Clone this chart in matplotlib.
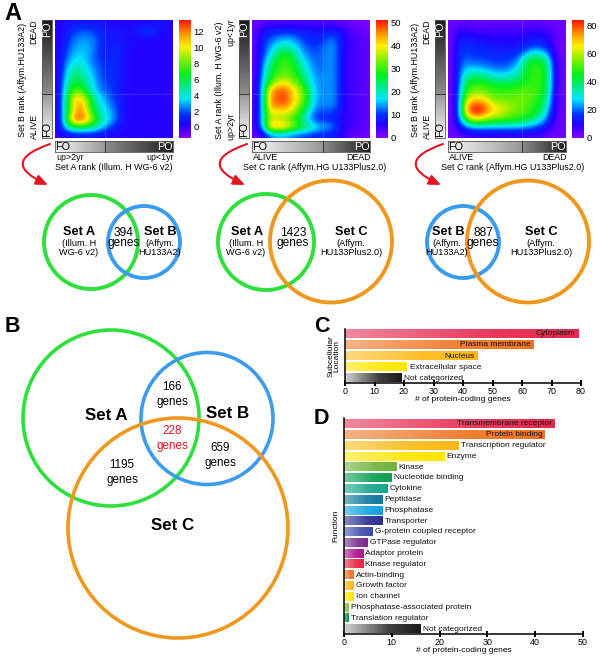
import matplotlib

matplotlib.use("Agg")
import matplotlib.pyplot as plt
import numpy as np
from matplotlib.colors import LinearSegmentedColormap, Normalize, to_rgb
from matplotlib.patches import Circle, FancyArrowPatch

plt.rcParams["font.family"] = ["Liberation Sans", "DejaVu Sans"]

W, H = 600, 656

heat_a_b = [
    [0.2, 0.8, 0.8, 0.8, 0.8, 0.8, 0.6, 0.4, 0.4, 0.4, 0.4, 0.4, 0.4, 0.4, 0.8, 0.4],
    [0.2, 0.8, 1.6, 2, 2, 1.6, 1.2, 0.8, 0.8, 0.6, 0.6, 1.3, 1.7, 1.7, 0.4, 0.3],
    [0.2, 1, 2.2, 2.6, 2.6, 2.2, 1.2, 0.8, 0.8, 0.6, 0.4, 0.4, 0.4, 0.3, 0.3, 0.3],
    [0.2, 1.4, 2.6, 3, 3, 2.2, 1.2, 1, 1.3, 0.8, 0.4, 0.4, 0.4, 0.3, 0.3, 0.3],
    [0.2, 1.8, 3, 3.4, 3, 2, 1.2, 1, 1.3, 0.6, 0.3, 0.3, 0.3, 0.3, 0.3, 0.3],
    [0.2, 2.2, 3.6, 3.8, 2.8, 2, 1.5, 1.2, 1.3, 0.5, 0.3, 0.3, 0.3, 0.3, 0.3, 0.3],
    [0.2, 2.8, 4.5, 4.5, 3.4, 2.4, 1.6, 1.5, 1.3, 0.5, 0.3, 0.3, 0.3, 0.3, 0.3, 0.3],
    [0.2, 3.4, 5.5, 5.2, 4, 2.6, 1.7, 1.5, 1.3, 0.5, 0.3, 0.3, 0.3, 0.3, 0.3, 0.3],
    [0.2, 4, 6.2, 6, 4.6, 3, 1.8, 1.7, 1.3, 0.5, 0.3, 0.3, 0.3, 0.3, 0.3, 0.3],
    [0.2, 4.6, 7.5, 7.5, 5.2, 3.2, 2.2, 1.8, 1, 0.4, 0.3, 0.3, 0.3, 0.3, 0.3, 0],
    [0.2, 5, 10, 10.5, 7.5, 4.4, 3, 2, 1.3, 0.5, 0.3, 0.3, 0.3, 0.3, 0.3, 0],
    [0.2, 5.2, 10, 12, 8.5, 5, 3.5, 2.6, 1.4, 0.5, 0.3, 0.3, 0.3, 0.3, 0.3, 0.3],
    [0.2, 5.4, 10, 12.5, 9, 6, 4, 3, 1.8, 0.5, 0.3, 0.3, 0.3, 0.3, 0.3, 0.3],
    [0.2, 5.4, 12.5, 13, 11, 7, 4.5, 3.4, 1.8, 0.4, 0.3, 0.3, 0.3, 0.3, 0.3, 0.3],
    [0.2, 3.8, 6, 6.5, 6, 5, 3.4, 1.8, 0.9, 0.4, 0.3, 0.3, 0.3, 0.3, 0, 0.3],
    [0, 0.4, 0.8, 0.8, 0.8, 0.7, 0.5, 0.4, 0.3, 0.3, 0.3, 0.3, 0.3, 0.3, 0.3, 0.2],
]
heat_c_a = [
    [1, 2, 3, 3, 3, 3, 3, 3, 3, 3, 3, 2, 2, 1, 1, 1],
    [2, 7, 8, 9, 9, 9, 8, 8, 7, 7, 8, 8, 5, 3, 2, 1],
    [2, 8, 11, 13, 14, 14, 11, 9, 8, 9, 12, 11, 6, 4, 3, 2],
    [2, 9, 14, 18, 20, 18, 14, 11, 10, 11, 14, 12, 5, 4, 3, 2],
    [2, 10, 16, 24, 27, 24, 16, 13, 11, 12, 14, 12, 5, 4, 3, 2],
    [2, 12, 21, 28, 30, 28, 20, 15, 12, 12, 14, 12, 5, 4, 3, 2],
    [2, 14, 24, 29, 31, 29, 23, 17, 13, 12, 14, 12, 5, 4, 3, 2],
    [2, 15, 26, 31, 33, 31, 26, 19, 14, 13, 14, 12, 5, 4, 3, 2],
    [3, 17, 30, 38, 40, 35, 30, 21, 15, 13, 14, 12, 5, 4, 3, 2],
    [3, 18, 44, 48, 48, 42, 36, 26, 16, 13, 14, 12, 5, 4, 3, 2],
    [3, 18, 46, 48, 50, 43, 37, 27, 16, 13, 14, 12, 5, 4, 3, 2],
    [3, 18, 46, 47, 48, 41, 35, 25, 15, 13, 14, 12, 5, 4, 3, 2],
    [3, 18, 40, 38, 40, 36, 29, 20, 12, 10, 11, 9, 5, 4, 3, 2],
    [3, 18, 38, 36, 34, 30, 24, 16, 10, 9, 9, 7, 5, 4, 3, 2],
    [3, 17, 44, 46, 44, 36, 30, 24, 20, 15, 15, 10, 5, 4, 3, 2],
    [1, 5, 12, 14, 14, 12, 11, 10, 9, 9, 8, 7, 4, 2, 2, 1],
]
heat_c_b = [
    [2, 3, 3, 3, 3, 3, 3, 3, 3, 3, 3, 3, 3, 3, 2, 2],
    [2, 8, 7, 6, 6, 6, 6, 6, 6, 6, 7, 8, 7, 6, 3, 2],
    [2, 12, 12, 11, 10, 9, 9, 9, 8, 8, 10, 12, 12, 10, 4, 2],
    [2, 14, 16, 14, 13, 12, 12, 11, 11, 11, 14, 16, 16, 12, 4, 2],
    [2, 15, 17, 16, 15, 15, 14, 14, 14, 15, 22, 30, 30, 22, 6, 2],
    [2, 16, 20, 18, 18, 17, 16, 16, 17, 22, 38, 44, 44, 34, 8, 2],
    [2, 17, 25, 25, 24, 22, 20, 20, 22, 28, 42, 48, 48, 38, 10, 2],
    [2, 18, 33, 38, 36, 32, 28, 28, 30, 34, 44, 48, 48, 40, 10, 2],
    [2, 18, 42, 46, 46, 44, 40, 40, 40, 42, 46, 48, 48, 40, 10, 2],
    [2, 20, 48, 54, 54, 50, 48, 48, 48, 50, 52, 50, 48, 38, 9, 2],
    [2, 20, 56, 64, 64, 58, 52, 52, 52, 54, 54, 50, 46, 35, 8, 2],
    [2, 20, 70, 80, 80, 70, 62, 60, 56, 54, 52, 48, 44, 30, 8, 2],
    [2, 20, 72, 84, 84, 72, 66, 62, 56, 54, 50, 46, 40, 24, 7, 2],
    [2, 18, 46, 62, 60, 54, 52, 50, 48, 46, 42, 38, 30, 18, 6, 2],
    [2, 10, 20, 25, 26, 25, 25, 25, 25, 25, 23, 20, 16, 10, 4, 2],
    [2, 3, 5, 6, 7, 7, 7, 7, 7, 7, 7, 6, 5, 3, 2, 2],
]

location_names = ["Cytoplasm", "Plasma membrane", "Nucleus", "Extracellular space", "Not categorized"]
location_counts = [79, 64, 45, 21, 19]
location_colors = ["#E8274F", "#EF7422", "#FDB913", "#FFE600", "#1A1A1A"]

function_names = [
    "Transmembrane receptor", "Protein binding", "Transcription regulator", "Enzyme",
    "Kinase", "Nucleotide binding", "Cytokine", "Peptidase", "Phosphatase", "Transporter",
    "G-protein coupled receptor", "GTPase regulator", "Adaptor protein", "Kinase regulator",
    "Actin-binding", "Growth factor", "Ion channel", "Phosphatase-associated protein",
    "Translation regulator", "Not categorized",
]
function_counts = [44, 42, 24, 21, 11, 10, 9, 8, 8, 8, 6, 5, 4, 4, 2, 2, 2, 1, 1, 16]
function_colors = [
    "#E8274F", "#EF7422", "#FDB913", "#FFE600", "#6FB23C", "#0B9E55", "#14A48C", "#0F7A9E",
    "#0FA3E0", "#2B2F8F", "#3F4EA8", "#7A2A8C", "#B0148C", "#EC2340", "#EF7422", "#FDB913",
    "#FFE800", "#8CC63F", "#0A9E50", "#1A1A1A",
]

rainbow = LinearSegmentedColormap.from_list(
    "rainbow_purple",
    [
        (0.00, "#8A00FF"), (0.11, "#2400FF"), (0.20, "#0030FF"), (0.33, "#00E5FF"),
        (0.53, "#00F020"), (0.65, "#70F000"), (0.78, "#FFF000"), (0.89, "#FF9000"), (1.00, "#FF1000"),
    ],
)

fig = plt.figure(figsize=(W / 100, H / 100), dpi=100)


def px_axes(x0, y0, x1, y1, **kwargs):
    return fig.add_axes([x0 / W, 1 - y1 / H, (x1 - x0) / W, (y1 - y0) / H], **kwargs)


canvas = px_axes(0, 0, W, H, zorder=10)
canvas.set_xlim(0, W)
canvas.set_ylim(H, 0)
canvas.axis("off")
canvas.patch.set_alpha(0)


def label(x, y, s, size=6.4, ha="center", va="center", **kwargs):
    canvas.text(x, y, s, fontsize=size, ha=ha, va=va, **kwargs)


def rank_strip(x0, y0, x1, y1, split, vertical=False):
    ax = px_axes(x0, y0, x1, y1)
    ax.set_xticks([])
    ax.set_yticks([])
    for spine in ax.spines.values():
        spine.set_linewidth(0.6)
        spine.set_color("#555555")
    n = 200
    if vertical:
        frac = int(round((y1 - split) / (y1 - y0) * n))
        ramp = np.r_[np.linspace(0.97, 0.6, frac), np.linspace(0.55, 0.1, n - frac)][::-1]
        ax.imshow(ramp[:, None], cmap="gray", vmin=0, vmax=1, aspect="auto")
        canvas.plot([x0, x1], [split, split], color="#333333", lw=0.7)
        label((x0 + x1) / 2, y1 - 8.5, "FO", size=7.8, rotation=90, color="black")
        label((x0 + x1) / 2, y0 + 9, "PO", size=7.8, rotation=90, color="white")
    else:
        frac = int(round((split - x0) / (x1 - x0) * n))
        ramp = np.r_[np.linspace(0.97, 0.6, frac), np.linspace(0.55, 0.12, n - frac)]
        ax.imshow(ramp[None, :], cmap="gray", vmin=0, vmax=1, aspect="auto")
        canvas.plot([split, split], [y0, y1], color="#333333", lw=0.7)
        label(x0 + 7.5, (y0 + y1) / 2, "FO", size=7.8, color="black")
        label(x1 - 8.5, (y0 + y1) / 2, "PO", size=7.8, color="white")


def heat_panel(x0, grid, vmin, vmax, ticks, bar_split, texts):
    x1 = x0 + 118
    y0, y1 = 20, 138
    ax = px_axes(x0, y0, x1, y1)
    im = ax.imshow(
        np.array(grid), cmap=rainbow, norm=Normalize(vmin, vmax),
        interpolation="bicubic", aspect="auto",
    )
    ax.set_xticks([])
    ax.set_yticks([])
    for spine in ax.spines.values():
        spine.set_visible(False)
    canvas.plot([bar_split, bar_split], [y0, y1], color="white", lw=0.5, alpha=0.2)
    canvas.plot([x0, x1], [94, 94], color="white", lw=0.5, alpha=0.2)

    cax = px_axes(x1 + 6, y0, x1 + 18, y1)
    cbar = fig.colorbar(im, cax=cax, ticks=ticks)
    cbar.outline.set_visible(False)
    cbar.ax.tick_params(length=0, pad=2, labelsize=6.8)

    rank_strip(x0 - 13, y0, x0 - 3, y1, 94, vertical=True)
    rank_strip(x0, 141, x1, 152, bar_split)

    left_title, top_tag, bottom_tag, bottom_left, bottom_right, bottom_title, bottom_x = texts
    label(x0 - 32, 80, left_title, rotation=90)
    label(x0 - 21, 32, top_tag, rotation=90)
    label(x0 - 21, 126, bottom_tag, rotation=90)
    label(x0 + 1, 158, bottom_left, ha="left")
    label(x1 + 1, 158, bottom_right, ha="right")
    label(bottom_x, 168, bottom_title)

    arrow = FancyArrowPatch(
        (x0 - 5, 144), (x0 - 7, 185), connectionstyle="arc3,rad=1.25",
        arrowstyle="-|>,head_length=7,head_width=3", color="#E3141E", lw=1.5, shrinkA=0, shrinkB=0,
    )
    canvas.add_patch(arrow)


heat_panel(
    55, heat_a_b, -1.4, 13.5, [0, 2, 4, 6, 8, 10, 12], 105,
    ("Set B rank (Affym.HU133A2)", "DEAD", "ALIVE", "up>2yr", "up<1yr",
     "Set A rank (Illum. H WG-6 v2)", 114),
)
heat_panel(
    252, heat_c_a, -0.4, 51.3, [0, 10, 20, 30, 40, 50], 323,
    ("Set A rank (Illum. H WG-6 v2)", "up<1yr", "up>2yr", "ALIVE", "DEAD",
     "Set C rank (Affym.HG U133Plus2.0)", 315),
)
heat_panel(
    448, heat_c_b, -0.7, 83.6, [0, 20, 40, 60, 80], 522,
    ("Set B rank (Affym.HU133A2)", "DEAD", "ALIVE", "ALIVE", "DEAD",
     "Set C rank (Affym.HG U133Plus2.0)", 513),
)

GREEN, BLUE, ORANGE = "#2EE03C", "#3B9BEF", "#F0981E"


def ring(x, y, r, color, lw=2.8):
    canvas.add_patch(Circle((x, y), r, fill=False, edgecolor=color, lw=lw))


ring(91, 242, 47, GREEN)
ring(144, 242, 36, BLUE)
ring(266, 242, 48, GREEN)
ring(331, 241.5, 61, ORANGE)
ring(463, 242, 36, BLUE)
ring(528, 241.5, 61, ORANGE)

SET_SIZE, SUB_SIZE, COUNT_SIZE = 9.2, 6.6, 8.6
for x, s in [(79, "Set A"), (160, "Set B"), (247, "Set A"), (351, "Set C"), (448, "Set B"), (541, "Set C")]:
    label(x, 232, s, size=SET_SIZE, fontweight="bold")
for x, top, bottom in [
    (79, "(Illum. H", "WG-6 v2)"),
    (160, "(Affym.", "HU133A2)"),
    (246, "(Illum. H", "WG-6 v2)"),
    (351, "(Affym.", "HU133Plus2.0)"),
    (447, "(Affym.", "HU133A2)"),
    (541, "(Affym.", "HU133Plus2.0)"),
]:
    label(x, 243, top, size=SUB_SIZE)
    label(x, 252.5, bottom, size=SUB_SIZE)
for x, s in [(124, "394"), (293, "1423"), (483, "887")]:
    label(x, 232.5, s, size=COUNT_SIZE)
    label(x, 243, "genes", size=COUNT_SIZE)

ring(111, 418, 88, GREEN, lw=2.6)
ring(207, 418.5, 66, BLUE, lw=2.6)
ring(178, 528, 110, ORANGE, lw=2.6)
for x, y, s in [(106, 415, "Set A"), (228, 414, "Set B"), (173, 525, "Set C")]:
    label(x, y, s, size=12.2, fontweight="bold")
for x, y, s, color in [
    (172, 387, "166", "black"),
    (172, 431, "228", "#E3141E"),
    (220, 448, "659", "black"),
    (122, 465, "1195", "black"),
]:
    label(x, y, s, size=8.4, color=color)
    label(x, y + 15, "genes", size=8.4, color=color)

for x, y, s in [(4, 14, "A"), (5, 327, "B"), (314, 327, "C"), (314, 418, "D")]:
    label(x, y, s, size=17 if s == "A" else 15.5, ha="left", fontweight="bold")


def mix_white(color, amount):
    rgb = np.array(to_rgb(color))
    return tuple(rgb + (1 - rgb) * amount)


def gradient_bars(ax, names, counts, colors, inside, ylim, bar_height, text_gap):
    y = np.arange(len(counts))
    bars = ax.barh(y, counts, height=bar_height, color=colors, linewidth=0, zorder=1)
    for bar, color in zip(bars, colors):
        start = 0.8 if color == "#1A1A1A" else 0.45
        cmap = LinearSegmentedColormap.from_list(
            "fade", [(0, mix_white(color, start)), (0.6, mix_white(color, start * 0.2)), (1, color)]
        )
        ax.imshow(
            np.linspace(0, 1, 64)[None, :], cmap=cmap, aspect="auto", zorder=2,
            extent=[0, bar.get_width(), bar.get_y() + bar.get_height(), bar.get_y()],
        )
    for i, (name, count) in enumerate(zip(names, counts)):
        if name in inside:
            ax.text(count - text_gap, i, name, ha="right", va="center", fontsize=6, zorder=3, color="#111111")
        else:
            ax.text(count + text_gap, i, name, ha="left", va="center", fontsize=6, zorder=3, color="#111111")
    ax.set_ylim(*ylim)
    ax.set_yticks([])
    ax.spines["top"].set_visible(False)
    ax.spines["right"].set_visible(False)
    ax.spines["left"].set_linewidth(1.1)
    ax.spines["bottom"].set_linewidth(1.1)
    ax.tick_params(axis="x", labelsize=6.4, length=4.5, width=1.4, pad=0.5, direction="inout")
    ax.set_xlabel("# of protein-coding genes", fontsize=6, labelpad=0)
    ax.patch.set_alpha(0)


ax_c = px_axes(345, 329, 581, 383)
ax_c.set_xlim(0, 80)
gradient_bars(
    ax_c, location_names, location_counts, location_colors,
    ["Cytoplasm", "Plasma membrane", "Nucleus"], (4.45, -0.45), 0.74, 1.0,
)
ax_c.set_xlim(0, 80)
ax_c.set_xticks(np.arange(0, 81, 10))

ax_d = px_axes(344, 418, 583, 634)
ax_d.set_xlim(0, 50)
gradient_bars(
    ax_d, function_names, function_counts, function_colors,
    ["Transmembrane receptor", "Protein binding"], (19.46, -0.55), 0.78, 0.45,
)
ax_d.set_xlim(0, 50)
ax_d.set_xticks(np.arange(0, 51, 10))

label(334, 356, "Subcellular\nLocation", size=6, rotation=90, linespacing=0.9)
label(336, 526, "Function", size=6, rotation=90)

fig.savefig("out.png", dpi=100)
